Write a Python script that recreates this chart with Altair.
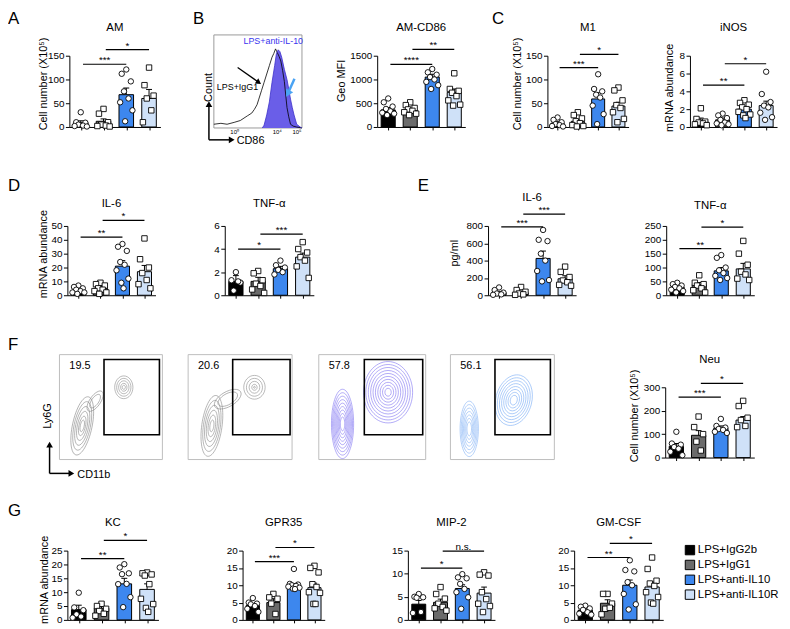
import altair as alt
import pandas as pd

# Whole figure = one layered chart; every panel has its own scales whose pixel
# ranges place it on the page (reference pixel coords minus the 8px page margin).
OX, OY = 8, 8
CW, CH = 782, 621
def px(x): return x - OX
def py(y): return y - OY

FONT = "Liberation Sans"
GROUPS = ["LPS+IgG2b", "LPS+IgG1", "LPS+anti-IL10", "LPS+anti-IL10R"]
COLORS = ["#000000", "#6b6b6b", "#3d87ee", "#cfe1f8"]
JIT = [0.0, -0.2, 0.2, -0.1, 0.1, -0.27, 0.27, -0.05, 0.05, -0.15, 0.15]
CS = ["circle", "square", "circle", "square"]
SC = ["square", "circle", "square", "circle"]

# ---------------- data ----------------
am_means = [9, 12, 68, 60]; am_sems = [4, 5, 14, 19]
am_pts = [[31, 10, 9, 5, 3, 2, 1], [38, 28, 10, 5, 3, 2, 1],
          [121, 112, 96, 75, 60, 52, 35, 12], [125, 88, 66, 60, 35, 10]]
am_sig = [(1, 3, 132, "***"), (2, 4, 163, "*")]

cd86_means = [360, 350, 1050, 730]; cd86_sems = [50, 30, 60, 70]
cd86_pts = [[600, 520, 430, 380, 330, 300, 280, 250], [520, 460, 400, 370, 340, 310, 280, 250],
            [1220, 1150, 1100, 1050, 1000, 950, 880, 800], [1130, 800, 760, 720, 650, 560, 470, 450]]
cd86_sig = [(1, 3, 1319, "****"), (2, 4, 1632, "**")]

m1_means = [8, 12, 59, 44]; m1_sems = [3, 4, 13, 8]
m1_pts = [[20, 15, 10, 6, 4, 2, 1], [31, 25, 18, 12, 8, 4, 2, 1],
          [111, 80, 75, 68, 62, 45, 27, 6], [83, 77, 56, 46, 40, 31, 17, 10]]
m1_sig = [(1, 3, 125, "***"), (2, 4, 153, "*")]

inos_means = [0.7, 0.8, 2.0, 2.4]; inos_sems = [0.3, 0.2, 0.2, 0.5]
inos_pts = [[2.1, 0.9, 0.6, 0.5, 0.4, 0.3, 0.2], [1.5, 1.3, 1.0, 0.8, 0.5, 0.4, 0.3, 0.2],
            [3.0, 2.7, 2.5, 2.2, 2.0, 1.7, 1.4, 1.3, 1.0], [6.2, 3.7, 2.8, 2.4, 2.2, 1.6, 1.1, 0.8]]
inos_sig = [(1, 3, 4.7, "**"), (2, 4, 7.1, "*")]

dil6_means = [3, 5, 21, 17]; dil6_sems = [0.8, 1, 4, 4.5]
dil6_pts = [[7, 6, 5, 4, 3, 2, 2, 1], [9, 8, 7, 5, 4, 3, 2, 1],
            [37, 35, 32, 24, 22, 18, 12, 9, 5], [41, 26, 20, 16, 11, 8, 5]]
dil6_sig = [(1, 3, 42, "**"), (2, 4, 54, "*")]

dtnf_means = [1.2, 1.2, 2.3, 3.3]; dtnf_sems = [0.5, 0.35, 0.2, 0.35]
dtnf_pts = [[2.0, 1.3, 1.1, 0.4, 1.2], [2.1, 1.9, 1.3, 1.0, 0.8, 0.5, 0.2],
            [3.0, 2.6, 2.4, 2.2, 2.0, 1.8], [4.6, 4.0, 3.7, 3.3, 3.0, 2.5, 1.5]]
dtnf_sig = [(1, 3, 4.0, "*"), (2, 4, 5.3, "***")]

eil6_means = [30, 30, 425, 190]; eil6_sems = [10, 12, 85, 35]
eil6_pts = [[90, 60, 30, 20, 10, 5], [95, 60, 40, 20, 10, 5],
            [754, 640, 625, 480, 400, 280, 175, 160], [330, 270, 210, 170, 150, 120, 110]]
eil6_sig = [(1, 3, 789, "***"), (2, 4, 937, "***")]

etnf_means = [28, 38, 88, 95]; etnf_sems = [4, 8, 12, 20]
etnf_pts = [[45, 40, 35, 30, 25, 20, 15, 10], [72, 45, 40, 35, 25, 18, 10],
            [145, 135, 100, 90, 80, 70, 62, 55], [196, 150, 110, 85, 75, 60, 55]]
etnf_sig = [(1, 3, 168, "**"), (2, 4, 246, "*")]

neu_means = [48, 95, 125, 160]; neu_sems = [12, 20, 10, 15]
neu_pts = [[110, 60, 55, 45, 38, 25, 10], [175, 130, 100, 68, 30],
           [165, 135, 128, 122, 118, 110, 105], [242, 220, 170, 160, 135, 130]]
neu_sig = [(1, 3, 258, "***"), (2, 4, 317, "*")]

kc_means = [3.7, 4.2, 13, 11]; kc_sems = [1.6, 0.8, 2, 2]
kc_pts = [[9.8, 4.5, 3.5, 2.0, 1.2, 0.8], [5.8, 5.0, 4.0, 3.2, 2.2, 1.5],
          [20.1, 18.9, 16.8, 16.5, 13, 12.9, 8.2, 4.6], [17.1, 16.8, 16.4, 16.0, 12.9, 7.6, 5.7, 4.3, 2.9]]
kc_sig = [(1, 3, 22.1, "**"), (2, 4, 28.7, "*")]

gpr_means = [4.2, 5.0, 9.9, 9.3]; gpr_sems = [0.5, 1.1, 0.6, 1.3]
gpr_pts = [[6.3, 5.0, 4.7, 4.5, 4.0, 3.2, 2.3], [7.5, 6.5, 6.1, 4.7, 1.7],
           [14.7, 10.4, 10.2, 10.0, 9.8, 9.6, 9.3, 9.0, 8.9], [15.6, 15.0, 13.7, 10.3, 9.5, 8.0, 7.8, 4.6, 4.6]]
gpr_sig = [(1, 3, 16.8, "***"), (2, 4, 20.9, "*")]

mip_means = [3.4, 3.8, 6.8, 5.8]; mip_sems = [0.8, 0.7, 0.8, 1.3]
mip_pts = [[5.6, 5.0, 4.9, 4.8, 1.7, 1.5], [7.1, 5.6, 4.6, 3.5, 2.8, 2.5, 2.0],
           [9.9, 9.2, 9.0, 7.8, 6.7, 6.0, 4.9, 2.4], [10.3, 9.8, 9.6, 6.0, 4.5, 3.5, 3.0, 1.7]]
mip_sig = [(1, 3, 11.2, "*"), (2, 4, 14.9, "n.s.")]

gm_means = [2.8, 4.8, 10, 9.5]; gm_sems = [0.4, 1.0, 1.5, 1.4]
gm_pts = [[4.1, 3.8, 3.3, 2.9, 2.2, 1.8, 1.5], [7.5, 7.5, 4.7, 3.2, 3.5, 1.6],
          [17.2, 14.4, 14.0, 10.9, 10.0, 7.5, 4.5, 3.0], [18, 14.7, 11.3, 10.5, 9.8, 8.0, 6.6, 5.0, 4.7]]
gm_sig = [(1, 3, 18, "**"), (2, 4, 22.1, "*")]

# histogram (panel B): x = position across the plot box (0-100), y = % of box height
igg1_x = [0, 8, 15, 23, 30, 38, 43, 46, 49, 51, 54, 57, 60, 63, 66, 68, 70, 72, 74, 76, 78, 80, 83, 85, 87, 90, 94, 100]
igg1_y = [4, 5, 4, 6, 8, 13, 16, 20, 25, 31, 40, 49, 58, 67, 76, 80, 85, 81, 77, 72, 62, 50, 22, 12, 4, 2, 1, 0]
il10_x = [55, 57, 60, 63, 66, 69, 71, 73, 75, 77, 80, 83, 85, 87, 89, 91, 94, 98, 100]
il10_y = [0, 3, 14, 28, 49, 67, 80, 84, 82, 76, 63, 52, 42, 31, 22, 14, 4, 1, 0]
hist_tick_x = [23.6, 71.9, 94.4]
hist_tick_lab = ["10⁰", "10⁴", "10⁵"]

# contour panels (F): rings (cx, cy from top, outer diameters, aspect, angle) in box pixels
f_labels = ["19.5", "20.6", "57.8", "56.1"]
f_colors = ["#8c8c8c", "#8c8c8c", "#7f72f2", "#82b1f5"]
f1_rings = [(65, 33, [23, 18, 13, 8, 4], 0.8, 0), (23, 72, [60, 50, 40, 30, 20, 12], 0.33, 12),
            (36, 47, [24, 16], 0.45, 35)]
f2_rings = [(67, 33, [24, 18, 12, 6, 2], 0.9, 0), (24, 72, [62, 52, 42, 32, 22, 12], 0.33, 8),
            (40, 45, [30, 22], 0.5, 60)]
f3_rings = [(24, 70, [70, 63, 56, 49, 42, 35, 28, 21, 14], 0.32, 0),
            (70, 38, [62, 56, 50, 44, 38, 32, 26, 20, 14, 8], 0.8, 0)]
f4_rings = [(19, 75, [56, 49, 42, 35, 28, 21, 14], 0.33, 0),
            (64, 46, [52, 46, 40, 34, 28, 22, 16, 10], 0.7, 15)]
f_gates = [(45, 101, 5, 81), (45, 103, 5, 81), (46, 105, 5, 81), (45, 101, 5, 81)]

ONE = pd.DataFrame({"a": [0]})
LAYERS = []


def vtext(t, x, y, **kw):
    LAYERS.append(alt.Chart(ONE).mark_text(**kw).encode(
        x=alt.value(x), y=alt.value(y), text=alt.value(t)))


def letter(t, x, y):
    vtext(t, max(px(x), 0), max(py(y), 0), align="left", baseline="top", fontSize=17)


def bar_panel(title, ymax, step, ytitle, means, sems, pts, shapes, sigs, left, top, w, h,
              title_dy=28, ytitle_dx=24, ytitle_up=7):
    L, T = px(left), py(top)
    g = [1, 2, 3, 4]
    bars = pd.DataFrame({"g": g, "mean": means, "zero": [0] * 4,
                         "top": [m + s for m, s in zip(means, sems)],
                         "lo": [i - 0.32 for i in g], "hi": [i + 0.32 for i in g],
                         "cl": [i - 0.13 for i in g], "cr": [i + 0.13 for i in g],
                         "grp": GROUPS})
    rows = []
    for i, vals in enumerate(pts):
        for k, v in enumerate(vals):
            rows.append({"x": i + 1 + JIT[k % len(JIT)], "v": v, "shp": shapes[i]})
    pdf = pd.DataFrame(rows)
    sdf = pd.DataFrame([{"x1": a + 0.1, "x2": b, "y": y, "xm": (a + b) / 2 + 0.05, "lab": lab}
                        for a, b, y, lab in sigs])
    xs = alt.Scale(domain=[0.5, 4.5], range=[L, L + w], nice=False, zero=False)
    ys = alt.Scale(domain=[0, ymax], range=[T + h, T], nice=False, zero=False)
    ticks = []
    t = 0
    while t <= ymax + 1e-9:
        ticks.append(round(t, 6))
        t += step
    xaxis = alt.Axis(orient="bottom", offset=(T + h) - CH, values=g, labels=False, title=None,
                     tickSize=3, grid=False)
    yargs = dict(orient="left", offset=-L, values=ticks, tickSize=4, labelFontSize=10,
                 labelPadding=1.5, format="d", grid=False)
    if ytitle:
        yargs.update(title=ytitle, titleX=-ytitle_dx, titleY=T + h / 2 - ytitle_up, titleAngle=270,
                     titleBaseline="middle", titleAlign="center")
    else:
        yargs.update(title=None)
    yaxis = alt.Axis(**yargs)
    base_b = alt.Chart(bars)
    LAYERS.append(base_b.mark_bar(stroke="black", strokeWidth=1).encode(
        x=alt.X("lo:Q", scale=xs, axis=xaxis), x2="hi:Q",
        y=alt.Y("mean:Q", scale=ys, axis=yaxis), y2="zero:Q",
        color=alt.Color("grp:N", scale=alt.Scale(domain=GROUPS, range=COLORS), legend=None)))
    LAYERS.append(base_b.mark_rule(color="black", strokeWidth=1).encode(
        x=alt.X("g:Q", scale=xs, axis=None), y=alt.Y("mean:Q", scale=ys, axis=None), y2="top:Q"))
    LAYERS.append(base_b.mark_rule(color="black", strokeWidth=1).encode(
        x=alt.X("cl:Q", scale=xs, axis=None), x2="cr:Q", y=alt.Y("top:Q", scale=ys, axis=None)))
    LAYERS.append(alt.Chart(pdf).mark_point(filled=True, fill="white", stroke="black", strokeWidth=0.9,
                                            size=30, opacity=1).encode(
        x=alt.X("x:Q", scale=xs, axis=None), y=alt.Y("v:Q", scale=ys, axis=None),
        shape=alt.Shape("shp:N", scale=alt.Scale(domain=["circle", "square"],
                                                 range=["circle", "square"]), legend=None)))
    LAYERS.append(alt.Chart(sdf).mark_rule(color="black", strokeWidth=1.2).encode(
        x=alt.X("x1:Q", scale=xs, axis=None), x2="x2:Q", y=alt.Y("y:Q", scale=ys, axis=None)))
    LAYERS.append(alt.Chart(sdf).mark_text(baseline="bottom", dy=1, fontSize=10).encode(
        x=alt.X("xm:Q", scale=xs, axis=None), y=alt.Y("y:Q", scale=ys, axis=None), text="lab:N"))
    vtext(title, L + w / 2, T - title_dy, fontSize=11.5, baseline="middle")


def hist_panel(left, top, w, h):
    L, T = px(left), py(top)
    xs = alt.Scale(domain=[0, 100], range=[L, L + w], nice=False, zero=False)
    ys = alt.Scale(domain=[0, 100], range=[T + h, T], nice=False, zero=False)
    d1 = pd.DataFrame({"x": igg1_x, "y": igg1_y})
    d2 = pd.DataFrame({"x": il10_x, "y": il10_y})
    frame = pd.DataFrame({"x1": [0], "x2": [100], "y1": [0], "y2": [100]})
    LAYERS.append(alt.Chart(frame).mark_rect(fillOpacity=0, stroke="#9a9a9a", strokeWidth=1).encode(
        x=alt.X("x1:Q", scale=xs, axis=None), x2="x2:Q", y=alt.Y("y1:Q", scale=ys, axis=None), y2="y2:Q"))
    LAYERS.append(alt.Chart(d2).mark_area(color="#6a5ee8", opacity=1).encode(
        x=alt.X("x:Q", scale=xs, axis=None), y=alt.Y("y:Q", scale=ys, axis=None)))
    LAYERS.append(alt.Chart(d1).mark_line(color="black", strokeWidth=0.8).encode(
        x=alt.X("x:Q", scale=xs, axis=None), y=alt.Y("y:Q", scale=ys, axis=None)))
    LAYERS.append(alt.Chart(d2).mark_line(color="#3b2fc9", strokeWidth=0.8).encode(
        x=alt.X("x:Q", scale=xs, axis=None), y=alt.Y("y:Q", scale=ys, axis=None)))
    LAYERS.append(alt.Chart(pd.DataFrame({"x": hist_tick_x, "lab": hist_tick_lab})).mark_text(
        fontSize=6, baseline="top").encode(
        x=alt.X("x:Q", scale=xs, axis=None), y=alt.value(T + h + 1), text="lab:N"))
    vtext("LPS+anti-IL-10", L + 60, T + 6, fontSize=9, color="#3a35ee", baseline="middle")
    vtext("LPS+IgG1", L + 3, T + 53, fontSize=9, color="black", baseline="middle", align="left")
    arr = pd.DataFrame({"x": [27, 91.5], "y": [65, 53], "x2": [51, 84], "y2": [49, 37],
                        "c": ["black", "#4aa3f3"], "ang": [34, 118], "wd": [1.3, 2.5], "sz": [40, 70]})
    LAYERS.append(alt.Chart(arr).mark_rule().encode(
        x=alt.X("x:Q", scale=xs, axis=None), y=alt.Y("y:Q", scale=ys, axis=None), x2="x2:Q", y2="y2:Q",
        color=alt.Color("c:N", scale=None), strokeWidth=alt.StrokeWidth("wd:Q", scale=None)))
    LAYERS.append(alt.Chart(arr).mark_point(shape="triangle-right", filled=True, opacity=1).encode(
        x=alt.X("x2:Q", scale=xs, axis=None), y=alt.Y("y2:Q", scale=ys, axis=None),
        color=alt.Color("c:N", scale=None),
        angle=alt.Angle("ang:Q", scale=None), size=alt.Size("sz:Q", scale=None)))
    # Count / CD86 axis arrows
    LAYERS.append(alt.Chart(ONE).mark_rule(color="black", strokeWidth=1.5).encode(
        x=alt.value(L - 5), y=alt.value(T + 106), y2=alt.value(T + 72)))
    LAYERS.append(alt.Chart(ONE).mark_point(shape="triangle-up", filled=True, color="black",
                                            size=45, opacity=1).encode(
        x=alt.value(L - 5), y=alt.value(T + 70)))
    LAYERS.append(alt.Chart(ONE).mark_rule(color="black", strokeWidth=1.5).encode(
        x=alt.value(L - 5), x2=alt.value(L + 16), y=alt.value(T + 106)))
    LAYERS.append(alt.Chart(ONE).mark_point(shape="triangle-right", filled=True, color="black",
                                            size=45, opacity=1).encode(
        x=alt.value(L + 18), y=alt.value(T + 106)))
    vtext("Count", L - 5, T + 53, fontSize=11, angle=270, baseline="middle")
    vtext("CD86", L + 23, T + 107, fontSize=11, align="left", baseline="middle")


def ellipse_path(a):
    return f"M0,-1 A{a},1 0 1,1 0,1 A{a},1 0 1,1 0,-1 Z"


def contour_panel(idx, rings, left, top, w, h, axes_arrows=False):
    L, T = px(left), py(top)
    xs = alt.Scale(domain=[0, w], range=[L, L + w], nice=False, zero=False)
    ys = alt.Scale(domain=[0, h], range=[T, T + h], nice=False, zero=False)
    frame = pd.DataFrame({"x1": [0], "x2": [w], "y1": [0], "y2": [h]})
    LAYERS.append(alt.Chart(frame).mark_rect(fillOpacity=0, stroke="#bdbdbd", strokeWidth=1).encode(
        x=alt.X("x1:Q", scale=xs, axis=None), x2="x2:Q", y=alt.Y("y1:Q", scale=ys, axis=None), y2="y2:Q"))
    rows = []
    for cx, cy, ds, asp, ang in rings:
        for d in ds:
            rows.append({"x": cx, "y": cy, "sz": d * d, "shp": f"a{asp}", "ang": ang})
    rdf = pd.DataFrame(rows)
    keys = sorted(set(rdf["shp"]))
    paths = [ellipse_path(float(k[1:])) for k in keys]
    LAYERS.append(alt.Chart(rdf).mark_point(filled=False, strokeWidth=0.6, opacity=1,
                                            color=f_colors[idx]).encode(
        x=alt.X("x:Q", scale=xs, axis=None), y=alt.Y("y:Q", scale=ys, axis=None),
        size=alt.Size("sz:Q", scale=None), angle=alt.Angle("ang:Q", scale=None),
        shape=alt.Shape("shp:N", scale=alt.Scale(domain=keys, range=paths), legend=None)))
    gx1, gx2, gy1, gy2 = f_gates[idx]
    LAYERS.append(alt.Chart(pd.DataFrame({"x1": [gx1], "x2": [gx2], "y1": [gy1], "y2": [gy2]})).mark_rect(
        fillOpacity=0, stroke="black", strokeWidth=1.6).encode(
        x=alt.X("x1:Q", scale=xs, axis=None), x2="x2:Q", y=alt.Y("y1:Q", scale=ys, axis=None), y2="y2:Q"))
    LAYERS.append(alt.Chart(pd.DataFrame({"x": [10], "y": [12], "t": [f_labels[idx]]})).mark_text(
        align="left", baseline="middle", fontSize=11).encode(
        x=alt.X("x:Q", scale=xs, axis=None), y=alt.Y("y:Q", scale=ys, axis=None), text="t:N"))
    if axes_arrows:
        LAYERS.append(alt.Chart(ONE).mark_rule(color="black", strokeWidth=1.5).encode(
            x=alt.value(L - 10), y=alt.value(T + 120), y2=alt.value(T + 93)))
        LAYERS.append(alt.Chart(ONE).mark_point(shape="triangle-up", filled=True, color="black",
                                                size=45, opacity=1).encode(
            x=alt.value(L - 10), y=alt.value(T + 91)))
        LAYERS.append(alt.Chart(ONE).mark_rule(color="black", strokeWidth=1.5).encode(
            x=alt.value(L - 10), x2=alt.value(L + 10), y=alt.value(T + 120)))
        LAYERS.append(alt.Chart(ONE).mark_point(shape="triangle-right", filled=True, color="black",
                                                size=45, opacity=1).encode(
            x=alt.value(L + 12), y=alt.value(T + 120)))
        vtext("Ly6G", L - 12, T + 62, fontSize=11, angle=270, baseline="middle")
        vtext("CD11b", L + 18, T + 122, fontSize=11, align="left", baseline="middle")


def legend_panel(left, top, w, h):
    L, T = px(left), py(top)
    d = pd.DataFrame({"grp": GROUPS, "i": [0, 1, 2, 3]})
    ysc = alt.Scale(domain=[-0.5, 3.5], range=[T, T + h], nice=False, zero=False)
    LAYERS.append(alt.Chart(d).mark_point(shape="square", filled=True, size=90, stroke="black",
                                          strokeWidth=1, opacity=1).encode(
        x=alt.value(L + 7), y=alt.Y("i:Q", scale=ysc, axis=None),
        fill=alt.Fill("grp:N", scale=alt.Scale(domain=GROUPS, range=COLORS), legend=None)))
    LAYERS.append(alt.Chart(d).mark_text(align="left", baseline="middle", fontSize=11.5).encode(
        x=alt.value(L + 15), y=alt.Y("i:Q", scale=ysc, axis=None), text="grp:N"))


CELL = "Cell number (X10⁵)"
MRNA = "mRNA abundance"

# ---- row A-C
letter("A", 3, 3)
bar_panel("AM", 150, 50, CELL, am_means, am_sems, am_pts, CS, am_sig, 70, 53, 92, 72, 28, 26, 8)
letter("B", 195, 3)
hist_panel(216, 32, 89, 94)
bar_panel("AM-CD86", 1500, 500, "Geo MFI", cd86_means, cd86_sems, cd86_pts, CS, cd86_sig, 381, 53, 89, 72, 28, 36, 11)
letter("C", 497, 3)
bar_panel("M1", 150, 50, CELL, m1_means, m1_sems, m1_pts, CS, m1_sig, 553, 53, 82, 72, 28, 30, 8)
bar_panel("iNOS", 8, 2, MRNA, inos_means, inos_sems, inos_pts, SC, inos_sig, 697, 53, 88, 72, 28, 21, 4)
# ---- row D-E
letter("D", 3, 177)
bar_panel("IL-6", 50, 10, MRNA, dil6_means, dil6_sems, dil6_pts, CS, dil6_sig, 68, 225, 89, 70, 22, 24, 7)
bar_panel("TNF-α", 6, 2, None, dtnf_means, dtnf_sems, dtnf_pts, CS, dtnf_sig, 227, 225, 90, 70, 22)
letter("E", 422, 177)
bar_panel("IL-6", 800, 200, "pg/ml", eil6_means, eil6_sems, eil6_pts, CS, eil6_sig, 493, 225, 89, 70, 28, 34, 8)
bar_panel("TNF-α", 250, 50, None, etnf_means, etnf_sems, etnf_pts, CS, etnf_sig, 673, 225, 89, 70, 20)
# ---- row F
letter("F", 3, 337)
contour_panel(0, f1_rings, 60, 355, 104, 106, True)
contour_panel(1, f2_rings, 190, 355, 105, 106)
contour_panel(2, f3_rings, 322, 355, 108, 106)
contour_panel(3, f4_rings, 455, 355, 105, 106)
bar_panel("Neu", 300, 100, CELL, neu_means, neu_sems, neu_pts, CS, neu_sig, 672, 388, 90, 71, 28, 31, 7)
# ---- row G
letter("G", 3, 505)
bar_panel("KC", 25, 5, MRNA, kc_means, kc_sems, kc_pts, CS, kc_sig, 68, 553, 92, 70, 28, 23, 6)
bar_panel("GPR35", 20, 5, None, gpr_means, gpr_sems, gpr_pts, CS, gpr_sig, 245, 553, 83, 70, 28)
bar_panel("MIP-2", 15, 5, None, mip_means, mip_sems, mip_pts, CS, mip_sig, 412, 553, 88, 70, 28)
bar_panel("GM-CSF", 20, 5, None, gm_means, gm_sems, gm_pts, CS, gm_sig, 580, 553, 90, 70, 28)
legend_panel(690, 545, 95, 60)

IND = "independent"
chart = alt.layer(*LAYERS).resolve_scale(
    x=IND, y=IND, color=IND, fill=IND, shape=IND, size=IND, angle=IND, strokeWidth=IND
).resolve_axis(x=IND, y=IND).properties(
    width=CW, height=CH, padding=0, autosize=alt.AutoSizeParams(type="none")
).configure(font=FONT).configure_view(stroke=None).configure_axis(
    labelFont=FONT, titleFont=FONT, labelFontSize=10, titleFontSize=11, labelColor="black",
    titleColor="black", domainColor="black", tickColor="black", grid=False,
    titleFontWeight="normal", labelPadding=1.5, domainWidth=1, tickWidth=1
).configure_text(font=FONT)

chart.save("out.html", embed_options={"renderer": "svg", "actions": False})
